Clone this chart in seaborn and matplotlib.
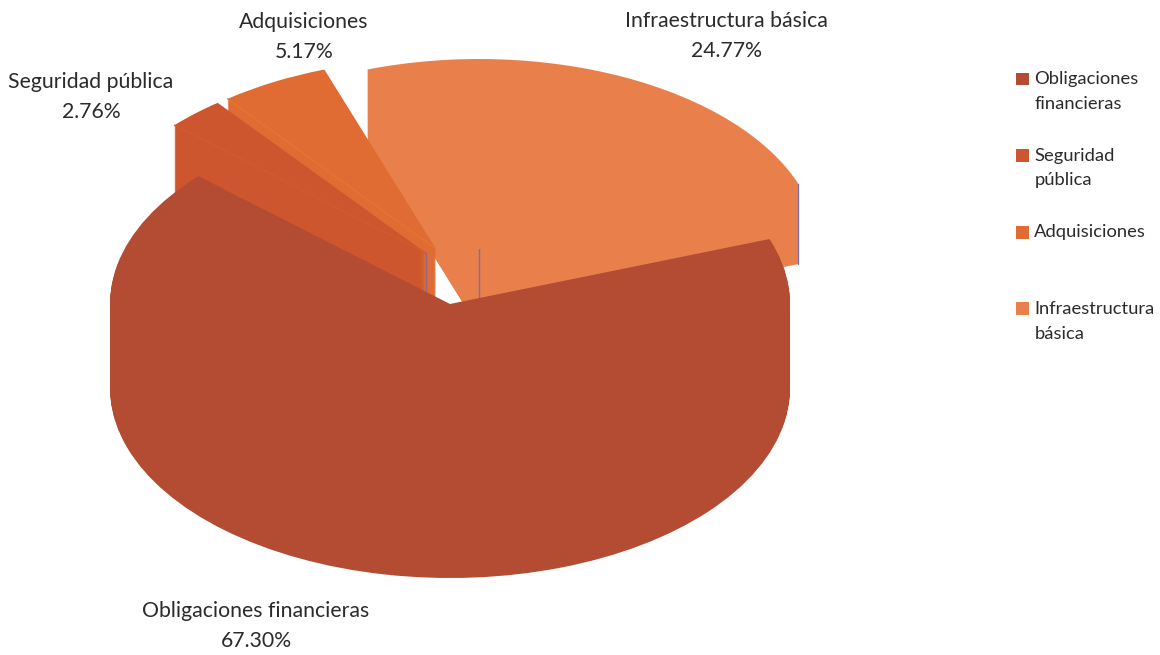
import numpy as np
import matplotlib
matplotlib.use("Agg")
import matplotlib.pyplot as plt
from matplotlib.patches import Patch
import seaborn as sns

# data
categories = ["Obligaciones financieras", "Seguridad pública", "Adquisiciones", "Infraestructura básica"]
shares = [67.30, 2.76, 5.17, 24.77]
share_labels = ["67.30%", "2.76%", "5.17%", "24.77%"]
legend_labels = ["Obligaciones\nfinancieras", "Seguridad\npública", "Adquisiciones\n ", "Infraestructura\nbásica"]
hex_colors = ["#B34C32", "#CE562E", "#E06C33", "#E9804C"]

# style / layout (pixels of the figure)
W, H = 1160, 655
RX, RY = 340.0, 190.0
DEPTHS = [84, 80, 80, 80]
APEX = [(450, 304), (426, 253), (436, 249), (479, 249)]
PIE_CENTER = (450, 304)
LABEL_POS = [(256, 611), (91, 82), (304, 22), (726, 21)]
STACK_RANK = [3, 2, 1, 0]  # painter order
WALL_LINE = {1: "#D25A2F", 2: "#E57434"}
START = 20

sns.set_theme(style="white")
plt.rcParams["font.family"] = ["Lato", "DejaVu Sans"]
palette = sns.color_palette(hex_colors)

fig = plt.figure(figsize=(W / 100, H / 100), dpi=100)
ax = fig.add_axes([0, 0, 1, 1])


def to_units(px, py):
    return (px - PIE_CENTER[0]) / RX, (PIE_CENTER[1] - py) / RY


for d in range(max(DEPTHS), -1, -1):
    wedges, _ = ax.pie(shares, colors=palette, startangle=START, counterclock=False,
                       wedgeprops={"linewidth": 0})
    for i, w in enumerate(wedges):
        if d > DEPTHS[i]:
            w.set_visible(False)
            continue
        w.set_center(to_units(APEX[i][0], APEX[i][1] + d))
        w.set_zorder(STACK_RANK[i] + 0.9 * (1 - d / DEPTHS[i]))
        if d == 0:
            cx, cy = w.center
            seam = DEPTHS[i] / RY
            if i in WALL_LINE:
                t = np.deg2rad(w.theta2)
                ax.plot([cx, cx + np.cos(t)], [cy, cy + np.sin(t)], color=WALL_LINE[i],
                        lw=1.0, zorder=STACK_RANK[i] + 0.95)
            if i == 3:
                # thin bluish seams on the slice's walls
                t = np.deg2rad(w.theta1)
                for x0, y0 in [(cx, cy), (cx + np.cos(t), cy + np.sin(t))]:
                    ax.plot([x0, x0], [y0, y0 - seam], color="#7A6FA6", lw=1.0,
                            zorder=STACK_RANK[i] + 0.95)
            if i == 1:
                ax.plot([cx, cx], [cy, cy - seam], color="#8A6A90", lw=1.0,
                        zorder=STACK_RANK[i] + 0.95)

ax.set_aspect("auto")
ax.set_xlim(-PIE_CENTER[0] / RX, (W - PIE_CENTER[0]) / RX)
ax.set_ylim(-(H - PIE_CENTER[1]) / RY, PIE_CENTER[1] / RY)
ax.axis("off")

for name, val, (x, y) in zip(categories, share_labels, LABEL_POS):
    fig.text(x / W, 1 - y / H, name, ha="center", va="center", fontsize=15.3, color="#2b2b2b")
    fig.text(x / W, 1 - (y + 30) / H, val, ha="center", va="center", fontsize=15.3, color="#2b2b2b")

handles = [Patch(facecolor=c, edgecolor="none") for c in palette]
leg = fig.legend(handles, legend_labels, loc="upper left", bbox_to_anchor=(1016 / W, 1 - 71 / H),
                 frameon=False, fontsize=13.2, handlelength=0.7, handleheight=0.7,
                 handletextpad=0.3, labelspacing=1.95, borderpad=0, borderaxespad=0)
for t in leg.get_texts():
    t.set_linespacing(1.68)
    t.set_color("#2b2b2b")
for h in leg.legend_handles:
    h.set_y(h.get_y() + 9)

fig.savefig("out.png", dpi=100)
